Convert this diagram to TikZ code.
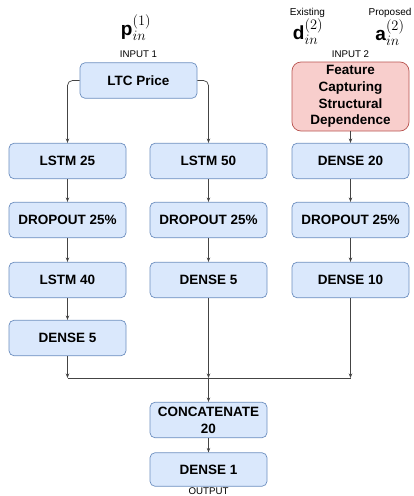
\documentclass[tikz,border=0pt]{standalone}
\usepackage{fontspec}
\setmainfont{Liberation Sans}
\usetikzlibrary{arrows.meta}
\definecolor{bfill}{HTML}{DAE8FC}
\definecolor{bdraw}{HTML}{6C8EBF}
\definecolor{rfill}{HTML}{F8CECC}
\definecolor{rdraw}{HTML}{B85450}
\definecolor{edgec}{HTML}{444444}
\begin{document}
\begin{tikzpicture}[x=1pt,y=-1pt,
  box/.style={draw=bdraw, fill=bfill, rounded corners=5pt, minimum width=117pt, minimum height=35.5pt,
    font=\fontsize{13.5}{16.7}\selectfont\bfseries, align=center, inner sep=0pt, line width=0.7pt},
  redbox/.style={box, draw=rdraw, fill=rfill, minimum height=69pt, rounded corners=9pt},
  lbl/.style={font=\fontsize{9.7}{11}\selectfont, inner sep=0pt},
  mlbl/.style={font=\fontsize{19}{23}\selectfont, inner sep=0pt, anchor=base},
  conn/.style={draw=edgec, line width=0.7pt},
  arr/.style={conn, -{Stealth[length=4.5pt,width=3.5pt]}}]
\useasboundingbox (0,0) rectangle (413,496);
\clip (0,0) rectangle (413,496);

% top labels
\node[mlbl] (pin) at (136,35) {$\mathbf{p}_{in}^{(1)}$};
\node[lbl] (in1) at (138.5,54.5) {INPUT 1};
\node[lbl, font=\fontsize{10}{12}\selectfont] (exist) at (307.5,12.5) {Existing};
\node[lbl, font=\fontsize{10}{12}\selectfont] (prop) at (390,12.5) {Proposed};
\node[mlbl] (din) at (308,39) {$\mathbf{d}_{in}^{(2)}$};
\node[mlbl] (ain) at (390,40) {$\mathbf{a}_{in}^{(2)}$};
\node[lbl] (in2) at (350.5,54.5) {INPUT 2};

% boxes
\node[box] (ltc) at (138.5,80.5) {LTC Price};
\node[redbox] (feat) at (350.5,96.5) {Feature\\Capturing\\Structural\\Dependence};

\node[box] (l25) at (67.5,161) {LSTM 25};
\node[box] (do1) at (67.5,220) {DROPOUT 25\%};
\node[box] (l40) at (67.5,280) {LSTM 40};
\node[box] (d5a) at (67.5,338) {DENSE 5};

\node[box] (l50) at (208.5,161) {LSTM 50};
\node[box] (do2) at (208.5,220) {DROPOUT 25\%};
\node[box] (d5b) at (208.5,280) {DENSE 5};

\node[box] (d20) at (350.5,161) {DENSE 20};
\node[box] (do3) at (350.5,220) {DROPOUT 25\%};
\node[box] (d10) at (350.5,280) {DENSE 10};

\node[box] (cat) at (208.5,420) {CONCATENATE\\20};
\node[box, minimum height=33.5pt] (d1) at (208.5,469.5) {DENSE 1};
\node[lbl, anchor=north] (out) at (208.5,488) {OUTPUT};

\coordinate (j1) at (67.5,378);
\coordinate (j2) at (208.5,378);
\coordinate (j3) at (350.5,378);

% connectors
\draw[arr, rounded corners=5pt] (ltc.west) -| (l25.north);
\draw[arr, rounded corners=5pt] (ltc.east) -| (l50.north);
\draw[arr] (feat.south) -- (d20.north);

\draw[arr] (l25) -- (do1);
\draw[arr] (do1) -- (l40);
\draw[arr] (l40) -- (d5a);
\draw[arr] (d5a) -- (j1);

\draw[arr] (l50) -- (do2);
\draw[arr] (do2) -- (d5b);
\draw[arr] (d5b) -- (j2);

\draw[arr] (d20) -- (do3);
\draw[arr] (do3) -- (d10);
\draw[arr] (d10) -- (j3);

\draw[conn] (j1) -- (j3);
\draw[arr] (j2) -- (cat);
\draw[arr] (cat) -- (d1);
\end{tikzpicture}
\end{document}
